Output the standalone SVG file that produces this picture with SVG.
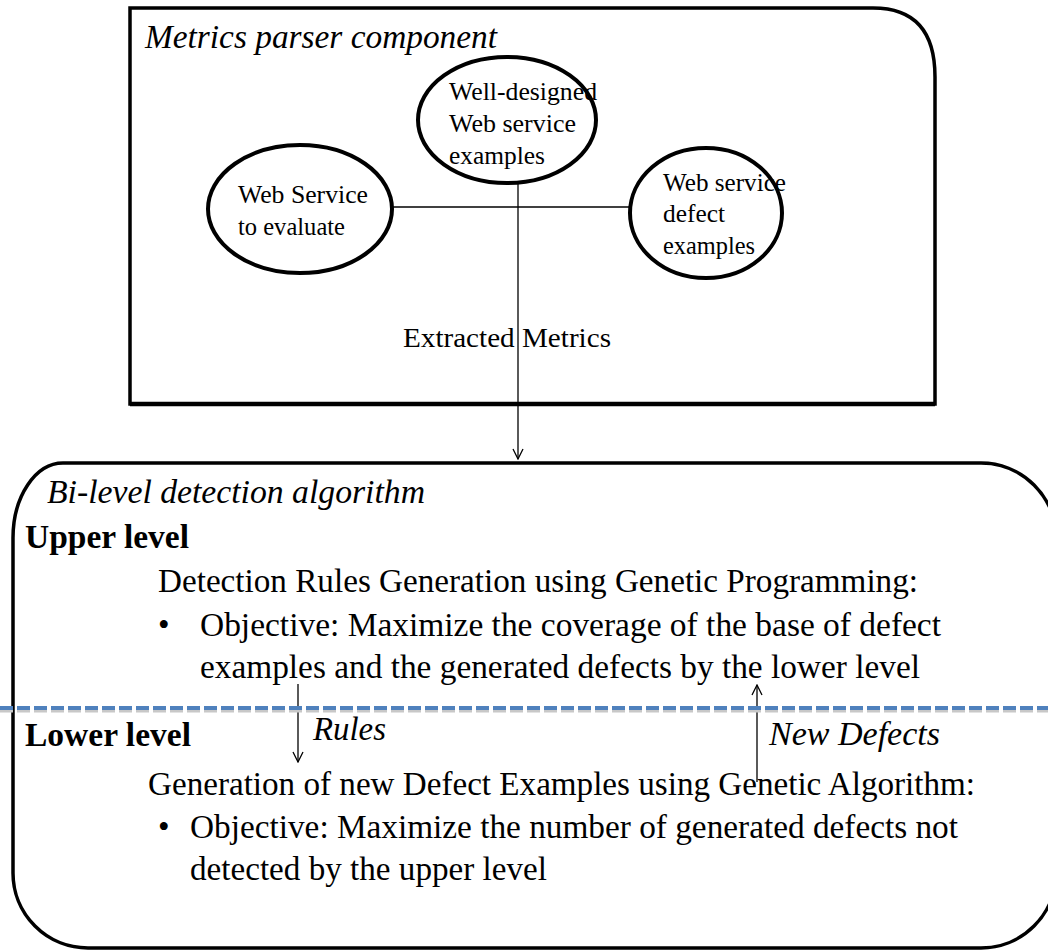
<svg xmlns="http://www.w3.org/2000/svg" width="1048" height="951" viewBox="0 0 1048 951">
<defs>
<style>
text{font-family:"Liberation Serif","Times New Roman",serif;fill:#000}
.it{font-style:italic}
.b{font-weight:bold}
.body{font-size:33px}
.lbl{font-size:25px}
.node{fill:#fff;stroke:#000;stroke-width:4}
.conn{stroke:#000;stroke-width:1.3;fill:none}
.frame{fill:none;stroke:#000;stroke-width:3.5}
</style>
<marker id="arr" viewBox="0 0 12 12" refX="11" refY="6" markerWidth="12" markerHeight="12" markerUnits="userSpaceOnUse" orient="auto">
<path d="M1,1 L11,6 L1,11" fill="none" stroke="#000" stroke-width="1.3"/>
</marker>
</defs>
<rect width="1048" height="951" fill="#fff"/>

<g id="metrics-parser">
<path class="frame" d="M130,8 H873 Q935,8 935,77 V404 H130 Z"/>
<path d="M130,404 H935" stroke="#000" stroke-width="4.5"/>
<text class="it body" x="145" y="48" textLength="352" lengthAdjust="spacingAndGlyphs">Metrics parser component</text>
</g>

<g id="connectors">
<line class="conn" x1="393" y1="207" x2="630" y2="207"/>
<line class="conn" x1="518" y1="183" x2="518" y2="459" marker-end="url(#arr)"/>
<line class="conn" x1="298" y1="684" x2="298" y2="762" marker-end="url(#arr)"/>
<line class="conn" x1="757" y1="782" x2="757" y2="685" marker-end="url(#arr)"/>
</g>

<g id="node-web-service-eval">
<ellipse class="node" cx="300" cy="209" rx="92" ry="64"/>
<text class="lbl" x="238" y="203" textLength="130" lengthAdjust="spacingAndGlyphs">Web Service</text>
<text class="lbl" x="238" y="235" textLength="107" lengthAdjust="spacingAndGlyphs">to evaluate</text>
</g>

<g id="node-well-designed">
<ellipse class="node" cx="507" cy="120" rx="89" ry="63"/>
<text class="lbl" x="449" y="100" textLength="148" lengthAdjust="spacingAndGlyphs">Well-designed</text>
<text class="lbl" x="449" y="132" textLength="127" lengthAdjust="spacingAndGlyphs">Web service</text>
<text class="lbl" x="449" y="164" textLength="96" lengthAdjust="spacingAndGlyphs">examples</text>
</g>

<g id="node-defect-examples">
<ellipse class="node" cx="706" cy="213" rx="76" ry="65"/>
<text class="lbl" x="663" y="191" textLength="123" lengthAdjust="spacingAndGlyphs">Web service</text>
<text class="lbl" x="663" y="222" textLength="62" lengthAdjust="spacingAndGlyphs">defect</text>
<text class="lbl" x="663" y="254" textLength="92" lengthAdjust="spacingAndGlyphs">examples</text>
</g>

<g id="label-extracted">
<text x="403" y="347" font-size="28" textLength="208" lengthAdjust="spacingAndGlyphs">Extracted  Metrics</text>
</g>

<g id="bilevel">
<path class="frame" d="M63,463 H981 A75,75 0 0 1 1056,538 V873 A75,75 0 0 1 981,948 H88 A75,75 0 0 1 13,873 V538 A50,75 0 0 1 63,463 Z"/>
<text class="it body" x="47" y="503" textLength="378" lengthAdjust="spacingAndGlyphs">Bi-level detection algorithm</text>
<text class="b body" x="25" y="548" textLength="164" lengthAdjust="spacingAndGlyphs">Upper level</text>
<text class="body" x="158" y="592" textLength="760" lengthAdjust="spacingAndGlyphs">Detection Rules Generation using Genetic Programming:</text>
<text class="body" x="158" y="636">•</text>
<text class="body" x="200" y="636" textLength="741" lengthAdjust="spacingAndGlyphs">Objective: Maximize the coverage of the base of defect</text>
<text class="body" x="200" y="678" textLength="720" lengthAdjust="spacingAndGlyphs">examples and the generated defects by the lower level</text>
<line x1="0" y1="711" x2="1048" y2="711" stroke="#c8c8c8" stroke-width="3" stroke-dasharray="13,4"/>
<line x1="0" y1="708" x2="1048" y2="708" stroke="#4f81bd" stroke-width="4" stroke-dasharray="13,4"/>
<text class="b body" x="25" y="746" textLength="166" lengthAdjust="spacingAndGlyphs">Lower level</text>
<text class="it body" x="313" y="740" textLength="73" lengthAdjust="spacingAndGlyphs">Rules</text>
<text class="it body" x="769" y="745" textLength="171" lengthAdjust="spacingAndGlyphs">New Defects</text>
<text class="body" x="148" y="795" textLength="827" lengthAdjust="spacingAndGlyphs">Generation of new Defect Examples using Genetic Algorithm:</text>
<text class="body" x="158" y="838">•</text>
<text class="body" x="190" y="838" textLength="768" lengthAdjust="spacingAndGlyphs">Objective: Maximize the number of generated defects not</text>
<text class="body" x="190" y="880" textLength="357" lengthAdjust="spacingAndGlyphs">detected by the upper level</text>
</g>
</svg>
